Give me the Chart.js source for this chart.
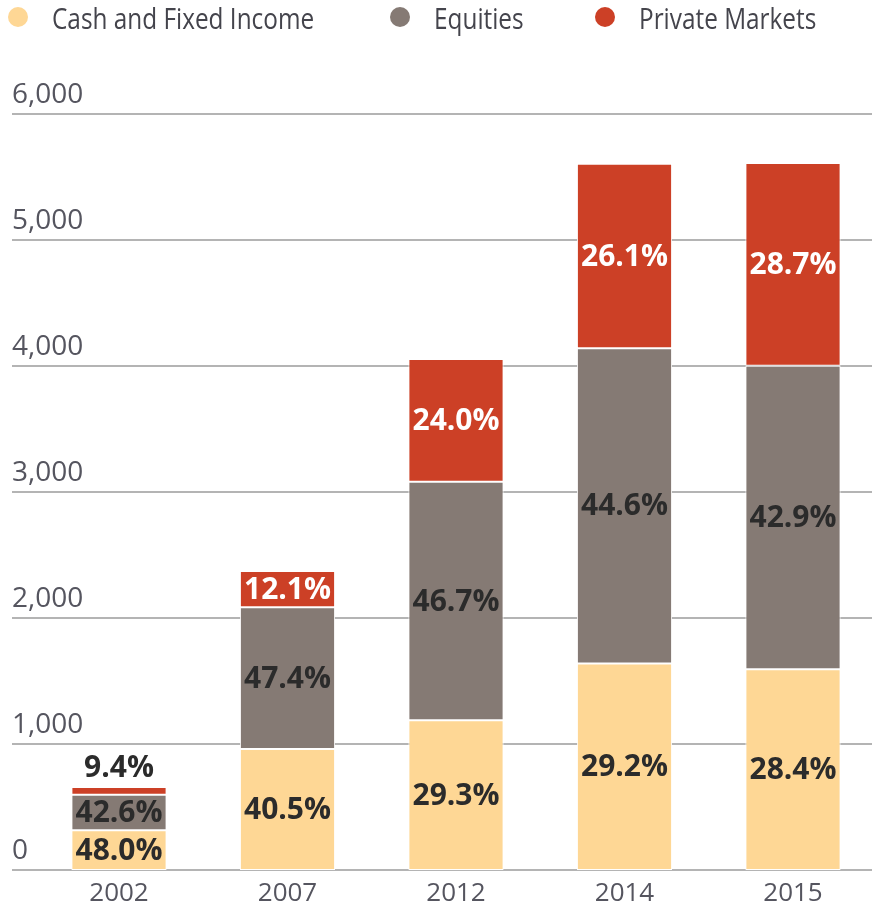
<!DOCTYPE html>
<html>
<head>
<meta charset="utf-8">
<script src="https://cdn.jsdelivr.net/npm/chart.js@4.4.0/dist/chart.umd.min.js"></script>
<style>
  html, body { margin: 0; padding: 0; background: #fff; }
  #wrap { position: relative; width: 872px; height: 908px; }
  #legend { position: absolute; left: 0; top: 0; width: 872px; height: 34px;
            font-family: 'Open Sans', sans-serif; font-size: 29px; color: #44444c; }
  .item { position: absolute; top: 0; height: 34px; display: flex; align-items: center; white-space: nowrap; }
  .dot { width: 20px; height: 20px; border-radius: 50%; margin-right: 24px; flex: none; }
  .name { display: inline-block; transform: scaleX(0.84); transform-origin: left center; }
</style>
</head>
<body>
<div id="wrap">
  <canvas id="chart" width="872" height="908"></canvas>
  <div id="legend"></div>
</div>
<script>
var years = ['2002', '2007', '2012', '2014', '2015'];
var seriesNames = ['Cash and Fixed Income', 'Equities', 'Private Markets'];
var seriesColors = ['#FED795', '#857A74', '#CC4026'];

// amounts
var cashValues = [316, 961, 1188, 1638, 1594];
var equityValues = [281, 1125, 1894, 2503, 2407];
var privateValues = [62, 287, 973, 1464, 1610];

// shares printed on the bars
var cashPct = [48.0, 40.5, 29.3, 29.2, 28.4];
var equityPct = [42.6, 47.4, 46.7, 44.6, 42.9];
var privatePct = [9.4, 12.1, 24.0, 26.1, 28.7];

var yTickValues = [0, 1000, 2000, 3000, 4000, 5000, 6000];

// legend
var legendLeft = [8, 390, 595];
var legendEl = document.getElementById('legend');
seriesNames.forEach(function(name, i) {
    var item = document.createElement('div');
    item.className = 'item';
    item.style.left = legendLeft[i] + 'px';
    item.innerHTML = '<span class="dot" style="background:' + seriesColors[i] + '"></span><span class="name">' + name + '</span>';
    legendEl.appendChild(item);
});

// gridlines run past the plot on the left, tick labels sit above them
var gridPlugin = {
    id: 'longGrid',
    beforeDatasetsDraw: function(chart) {
        var ctx = chart.ctx;
        var y = chart.scales.y;
        ctx.save();
        ctx.strokeStyle = '#b4b4b4';
        ctx.lineWidth = 2;
        ctx.font = '28px "Open Sans"';
        ctx.fillStyle = '#55555f';
        ctx.textAlign = 'left';
        ctx.textBaseline = 'middle';
        y.ticks.forEach(function(t) {
            var py = Math.round(y.getPixelForValue(t.value));
            ctx.beginPath();
            ctx.moveTo(12, py);
            ctx.lineTo(chart.width, py);
            ctx.stroke();
            ctx.fillText(t.label, 12, py - 19);
        });
        ctx.restore();
    }
};

var labelPlugin = {
    id: 'pctLabels',
    afterDatasetsDraw: function(chart) {
        var ctx = chart.ctx;
        ctx.save();
        ctx.font = 'bold 30px "Open Sans"';
        ctx.textAlign = 'center';
        ctx.textBaseline = 'middle';
        chart.data.datasets.forEach(function(ds, di) {
            var meta = chart.getDatasetMeta(di);
            meta.data.forEach(function(bar, i) {
                var text = ds.pct[i].toFixed(1) + '%';
                var h = Math.abs(bar.base - bar.y);
                var ty = (bar.y + bar.base) / 2 + 1;
                ctx.fillStyle = ds.labelColor;
                if (h < 24) {
                    ty = bar.y - 19;
                    ctx.fillStyle = '#2b2b2b';
                }
                ctx.fillText(text, bar.x, ty);
            });
        });
        ctx.restore();
    }
};

var ctx = document.getElementById('chart');

new Chart(ctx, {
    type: 'bar',
    data: {
        labels: years,
        datasets: [{
            label: seriesNames[0],
            data: cashValues,
            pct: cashPct,
            labelColor: '#2b2b2b',
            backgroundColor: seriesColors[0]
        }, {
            label: seriesNames[1],
            data: equityValues,
            pct: equityPct,
            labelColor: '#2b2b2b',
            backgroundColor: seriesColors[1]
        }, {
            label: seriesNames[2],
            data: privateValues,
            pct: privatePct,
            labelColor: '#ffffff',
            backgroundColor: seriesColors[2]
        }]
    },
    options: {
        responsive: false,
        animation: false,
        layout: {
            padding: { top: 114, left: 119, right: 79, bottom: 0 }
        },
        datasets: {
            bar: {
                clip: false,
                borderColor: '#ffffff',
                borderWidth: 1,
                borderSkipped: false,
                categoryPercentage: 1,
                barPercentage: 0.565
            }
        },
        plugins: {
            legend: { display: false },
            tooltip: { enabled: false }
        },
        scales: {
            x: {
                stacked: true,
                offset: false,
                afterFit: function(scale) { scale.height = 38; },
                grid: { display: false, drawTicks: false },
                border: { display: false },
                ticks: {
                    padding: 8,
                    color: '#55555f',
                    font: { family: 'Open Sans', size: 26 }
                }
            },
            y: {
                stacked: true,
                min: 0,
                max: 6000,
                afterBuildTicks: function(scale) {
                    scale.ticks = yTickValues.map(function(v) { return { value: v }; });
                },
                grid: { display: false, drawTicks: false },
                border: { display: false },
                ticks: {
                    display: false,
                    callback: function(v) { return v.toLocaleString('en-US'); }
                }
            }
        }
    },
    plugins: [gridPlugin, labelPlugin]
});
</script>
</body>
</html>
